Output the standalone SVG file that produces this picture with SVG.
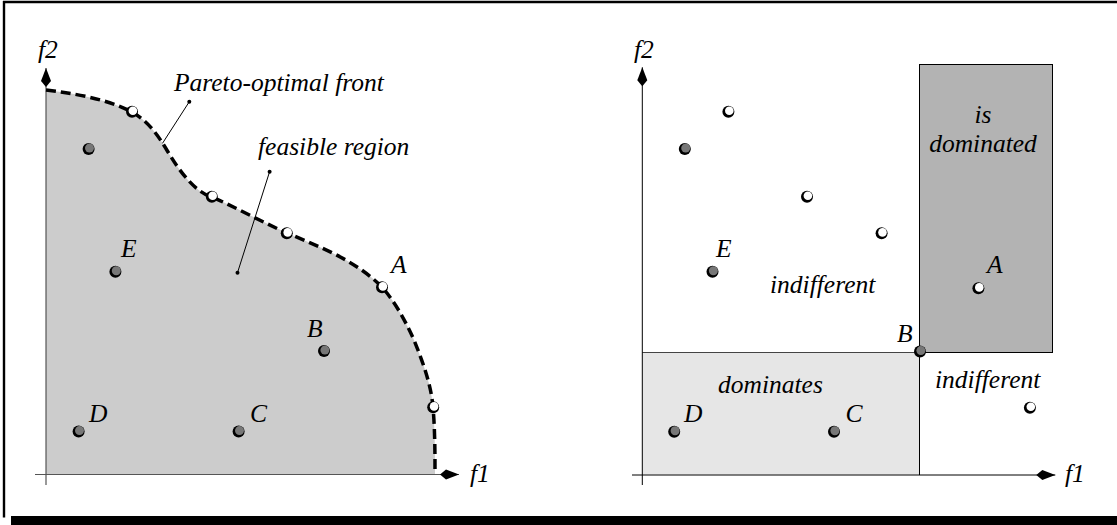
<svg xmlns="http://www.w3.org/2000/svg" width="1117" height="525" viewBox="0 0 1117 525">
<style>
text{font-family:"Liberation Serif","Times New Roman",serif;font-style:italic;font-size:25.5px;fill:#000}
.mid{text-anchor:middle}
.ax{stroke:#555;stroke-width:1.2;fill:none}
.axr{stroke:#000;stroke-width:1;fill:none}
.rim{fill:#000}
.dk{fill:#777}
.wt{fill:#fff}
.lead{stroke:#000;stroke-width:1;fill:none}
.front{fill:none;stroke:#000;stroke-width:3.5;stroke-dasharray:10,5}
</style>
<defs>
<marker id="arr" markerUnits="userSpaceOnUse" markerWidth="22" markerHeight="14" refX="19" refY="0" viewBox="0 -7 22 14" orient="auto">
<path d="M0,0 L6,-5 L19,0 L6,5 Z" fill="#000"/>
</marker>
<g id="dkpt"><circle r="6" class="rim"/><circle cx="0.9" cy="-0.9" r="4.5" class="dk"/></g>
<g id="wtpt"><circle r="6" class="rim"/><circle cx="0.9" cy="-0.9" r="4.3" class="wt"/></g>
</defs>
<g id="frame">
<line x1="3" y1="2" x2="1117" y2="2" stroke="#000" stroke-width="2.4"/>
<line x1="4" y1="1" x2="4" y2="517.5" stroke="#000" stroke-width="2.4"/>
<rect x="11" y="516" width="1106" height="9" fill="#000"/>
</g>
<g id="left-panel">
<path id="feasible-region" d="M46,90 C70,93 105,98 132,112 C148,121 158,135 168,152 C180,172 195,192 212,197 C237,208 262,222 287,233 C320,247 355,260 382,287 C395,302 405,320 414,340 C424,365 431,385 433,407 C435,430 435,455 435,474.5 L46,474.5 Z" fill="#ccc"/>
<g id="left-axes">
<line x1="46" y1="485" x2="46" y2="68" class="ax" marker-end="url(#arr)"/>
<line x1="35" y1="474.5" x2="459" y2="474.5" class="ax" marker-end="url(#arr)"/>
</g>
<path id="pareto-front" class="front" d="M46,90 C70,93 105,98 132,112 C148,121 158,135 168,152 C180,172 195,192 212,197 C237,208 262,222 287,233 C320,247 355,260 382,287 C395,302 405,320 414,340 C424,365 431,385 433,407 C435,430 435,455 435,473"/>
<g id="leaders">
<line x1="189.3" y1="101.7" x2="162.5" y2="143.3" class="lead"/>
<circle cx="189.3" cy="101.7" r="2" fill="#000"/>
<line x1="269.6" y1="171.7" x2="237.5" y2="272.7" class="lead"/>
<circle cx="269.6" cy="171.7" r="2" fill="#000"/>
<circle cx="237.5" cy="272.7" r="2" fill="#000"/>
</g>
<g id="left-points">
<use href="#wtpt" x="132" y="111.7"/>
<use href="#wtpt" x="211.8" y="196.7"/>
<use href="#wtpt" x="286.8" y="233.3"/>
<use href="#wtpt" x="382" y="287.3"/>
<use href="#wtpt" x="433.2" y="407.3"/>
<use href="#dkpt" x="88.6" y="149"/>
<use href="#dkpt" x="115.4" y="271.7"/>
<use href="#dkpt" x="324" y="351"/>
<use href="#dkpt" x="78.6" y="431.5"/>
<use href="#dkpt" x="238.6" y="431.5"/>
</g>
<g id="left-labels">
<text x="38" y="58">f2</text>
<text x="174" y="91">Pareto-optimal front</text>
<text x="258" y="155">feasible region</text>
<text x="121" y="257">E</text>
<text x="391" y="273">A</text>
<text x="307" y="337">B</text>
<text x="89" y="421.7">D</text>
<text x="250" y="421.7">C</text>
<text x="470" y="481.7">f1</text>
</g>
</g>
<g id="right-panel">
<rect id="dominated-box" x="919.5" y="64.5" width="133" height="288" fill="#b3b3b3" stroke="#000" stroke-width="1"/>
<rect id="dominates-box" x="642.3" y="352.5" width="277.2" height="122" fill="#e6e6e6"/>
<g id="right-lines">
<line x1="642.3" y1="352.5" x2="919.5" y2="352.5" stroke="#444" stroke-width="1"/>
<line x1="919.5" y1="352.5" x2="919.5" y2="475" stroke="#000" stroke-width="1"/>
</g>
<g id="right-axes">
<line x1="642.3" y1="485" x2="642.3" y2="67.3" class="axr" marker-end="url(#arr)"/>
<line x1="632" y1="475" x2="1055.3" y2="475" class="axr" marker-end="url(#arr)"/>
</g>
<g id="right-points">
<use href="#wtpt" x="728.4" y="111.7"/>
<use href="#wtpt" x="807" y="196.7"/>
<use href="#wtpt" x="881.6" y="233.3"/>
<use href="#wtpt" x="978.4" y="288.3"/>
<use href="#wtpt" x="1029.9" y="407.7"/>
<use href="#dkpt" x="684.8" y="149"/>
<use href="#dkpt" x="712.5" y="271.7"/>
<use href="#dkpt" x="920" y="351.5"/>
<use href="#dkpt" x="674.2" y="431.7"/>
<use href="#dkpt" x="834" y="431.7"/>
</g>
<g id="right-labels">
<text x="634" y="58">f2</text>
<text x="983" y="123" class="mid">is</text>
<text x="983" y="151.7" class="mid">dominated</text>
<text x="716" y="257">E</text>
<text x="770" y="293">indifferent</text>
<text x="987" y="273">A</text>
<text x="897" y="341.7">B</text>
<text x="718" y="393.3">dominates</text>
<text x="935" y="388.3">indifferent</text>
<text x="684" y="421.7">D</text>
<text x="845.5" y="421.7">C</text>
<text x="1065" y="481.7">f1</text>
</g>
</g>
</svg>
